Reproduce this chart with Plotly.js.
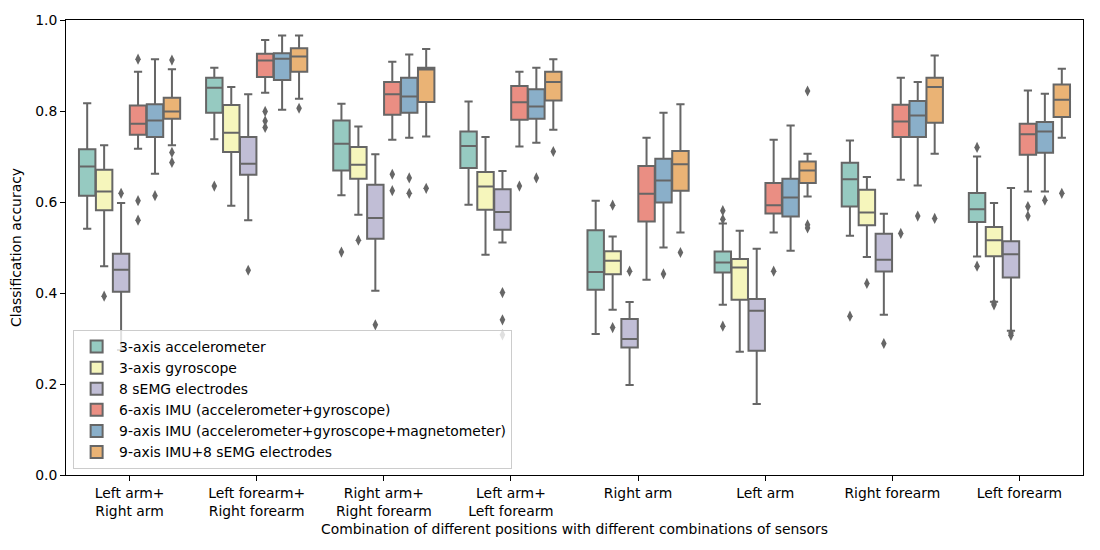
<!DOCTYPE html>
<html>
<head>
<meta charset="utf-8">
<script src="https://cdn.plot.ly/plotly-3.0.1.min.js"></script>
<style>html,body{margin:0;padding:0;background:#fff;}#chart{width:1100px;height:550px;}</style>
</head>
<body>
<div id="chart"></div>
<script>
// Categories (x axis)
const categories = ["Left arm+<br>Right arm", "Left forearm+<br>Right forearm", "Right arm+<br>Right forearm", "Left arm+<br>Left forearm", "Right arm", "Left arm", "Right forearm", "Left forearm"];
const seriesNames = ["3-axis accelerometer", "3-axis gyroscope", "8 sEMG electrodes", "6-axis IMU (accelerometer+gyroscope)", "9-axis IMU (accelerometer+gyroscope+magnetometer)", "9-axis IMU+8 sEMG electrodes"];
const seriesColors = ["#96cac1", "#f6f6bc", "#c1bed6", "#ea8e83", "#8aafc9", "#eab375"];

// Per series: lower whisker, Q1, median, Q3, upper whisker, outliers (one entry per category)
const accLow = [0.541, 0.738, 0.615, 0.594, 0.310, 0.374, 0.526, 0.480];
const accQ1 = [0.614, 0.796, 0.669, 0.675, 0.407, 0.445, 0.590, 0.556];
const accMed = [0.678, 0.851, 0.728, 0.723, 0.446, 0.467, 0.650, 0.584];
const accQ3 = [0.716, 0.873, 0.779, 0.755, 0.538, 0.491, 0.686, 0.620];
const accHigh = [0.817, 0.895, 0.816, 0.821, 0.603, 0.553, 0.735, 0.700];
const accOut = [[], [0.635], [0.490], [], [], [0.581, 0.562, 0.327], [0.349], [0.720, 0.459]];

const gyroLow = [0.459, 0.592, 0.572, 0.484, 0.363, 0.271, 0.479, 0.381];
const gyroQ1 = [0.582, 0.710, 0.651, 0.583, 0.441, 0.385, 0.549, 0.481];
const gyroMed = [0.623, 0.752, 0.682, 0.634, 0.471, 0.456, 0.577, 0.516];
const gyroQ3 = [0.671, 0.813, 0.721, 0.666, 0.492, 0.475, 0.627, 0.545];
const gyroHigh = [0.725, 0.853, 0.766, 0.743, 0.524, 0.537, 0.655, 0.598];
const gyroOut = [[0.393], [], [0.516], [], [0.593, 0.324], [], [0.421], [0.374, 0.378]];

const semgLow = [0.275, 0.560, 0.405, 0.511, 0.198, 0.156, 0.352, 0.317];
const semgQ1 = [0.403, 0.660, 0.519, 0.539, 0.280, 0.273, 0.447, 0.434];
const semgMed = [0.451, 0.684, 0.565, 0.578, 0.299, 0.361, 0.473, 0.485];
const semgQ3 = [0.486, 0.743, 0.638, 0.628, 0.343, 0.387, 0.530, 0.514];
const semgHigh = [0.598, 0.837, 0.705, 0.668, 0.380, 0.497, 0.574, 0.631];
const semgOut = [[0.619], [0.450], [0.330], [0.401, 0.341, 0.308], [0.448], [], [0.289], [0.307, 0.312]];

const imu6Low = [0.717, 0.840, 0.737, 0.722, 0.429, 0.533, 0.649, 0.623];
const imu6Q1 = [0.748, 0.875, 0.792, 0.781, 0.557, 0.575, 0.743, 0.704];
const imu6Med = [0.772, 0.911, 0.837, 0.819, 0.618, 0.593, 0.777, 0.749];
const imu6Q3 = [0.812, 0.926, 0.864, 0.855, 0.679, 0.642, 0.814, 0.772];
const imu6High = [0.886, 0.956, 0.908, 0.886, 0.741, 0.737, 0.873, 0.845];
const imu6Out = [[0.914, 0.603, 0.560], [0.799, 0.778, 0.764], [0.661, 0.625], [0.635], [], [0.448], [0.531], [0.590, 0.569]];

const imu9Low = [0.662, 0.803, 0.741, 0.730, 0.500, 0.493, 0.636, 0.623];
const imu9Q1 = [0.743, 0.868, 0.796, 0.783, 0.599, 0.568, 0.743, 0.708];
const imu9Med = [0.779, 0.915, 0.832, 0.810, 0.647, 0.610, 0.790, 0.755];
const imu9Q3 = [0.815, 0.927, 0.873, 0.848, 0.695, 0.651, 0.822, 0.776];
const imu9High = [0.914, 0.966, 0.924, 0.895, 0.796, 0.768, 0.864, 0.838];
const imu9Out = [[0.614], [], [0.653, 0.619], [0.653], [0.442], [], [0.569], [0.604]];

const fullLow = [0.725, 0.827, 0.744, 0.759, 0.533, 0.612, 0.706, 0.741];
const fullQ1 = [0.783, 0.886, 0.820, 0.823, 0.625, 0.642, 0.774, 0.787];
const fullMed = [0.799, 0.920, 0.891, 0.864, 0.683, 0.669, 0.853, 0.825];
const fullQ3 = [0.829, 0.938, 0.895, 0.886, 0.712, 0.689, 0.873, 0.858];
const fullHigh = [0.892, 0.966, 0.936, 0.914, 0.815, 0.706, 0.922, 0.893];
const fullOut = [[0.912, 0.709, 0.687], [0.806], [0.630], [0.711], [0.489], [0.844, 0.550, 0.543], [0.564], [0.619]];

const yTicks = [0.0, 0.2, 0.4, 0.6, 0.8, 1.0];

const stats = [
  [accLow, accQ1, accMed, accQ3, accHigh, accOut],
  [gyroLow, gyroQ1, gyroMed, gyroQ3, gyroHigh, gyroOut],
  [semgLow, semgQ1, semgMed, semgQ3, semgHigh, semgOut],
  [imu6Low, imu6Q1, imu6Med, imu6Q3, imu6High, imu6Out],
  [imu9Low, imu9Q1, imu9Med, imu9Q3, imu9High, imu9Out],
  [fullLow, fullQ1, fullMed, fullQ3, fullHigh, fullOut]
];

const lineGray = "#666666";
const traces = stats.map((s, i) => ({
  type: "box",
  name: seriesNames[i],
  x: categories,
  // empty outlier lists become [null] (a placeholder that draws nothing)
  y: s[5].map(a => (a.length ? a : [null])),
  lowerfence: s[0],
  q1: s[1],
  median: s[2],
  q3: s[3],
  upperfence: s[4],
  boxpoints: "outliers",
  jitter: 0,
  pointpos: 0,
  whiskerwidth: 0.5,
  fillcolor: seriesColors[i],
  line: {color: lineGray, width: 2},
  marker: {symbol: "diamond-tall", size: 8, color: lineGray, line: {width: 0}}
}));

const font = {family: "DejaVu Sans", size: 13.9, color: "#000"};
const layout = {
  width: 1100, height: 550,
  margin: {l: 66, r: 17, t: 20, b: 75},
  paper_bgcolor: "#fff", plot_bgcolor: "#fff",
  font: font,
  boxmode: "group",
  boxgap: 0.2,
  boxgroupgap: 0.03,
  showlegend: true,
  legend: {
    x: 0.007, y: 0.013, xanchor: "left", yanchor: "bottom",
    bgcolor: "rgba(255,255,255,0.8)", bordercolor: "#cccccc", borderwidth: 1,
    font: {family: "DejaVu Sans", size: 13.9, color: "#000"},
    tracegroupgap: 0, itemwidth: 35
  },
  xaxis: {
    type: "category",
    range: [-0.5, 7.5],
    showline: true, mirror: true, linecolor: "#000", linewidth: 1,
    ticks: "outside", ticklen: 5, tickcolor: "#000",
    showgrid: false, zeroline: false,
    tickfont: font,
    title: {text: "Combination of different positions with different combinations of sensors", font: font, standoff: 6}
  },
  yaxis: {
    range: [0, 1],
    tickvals: yTicks,
    tickformat: ".1f",
    showline: true, mirror: true, linecolor: "#000", linewidth: 1,
    ticks: "outside", ticklen: 5, tickcolor: "#000",
    showgrid: false, zeroline: false,
    tickfont: font,
    title: {text: "Classification accuracy", font: font, standoff: 10}
  }
};

Plotly.newPlot("chart", traces, layout, {displayModeBar: false, staticPlot: true});
</script>
</body>
</html>
